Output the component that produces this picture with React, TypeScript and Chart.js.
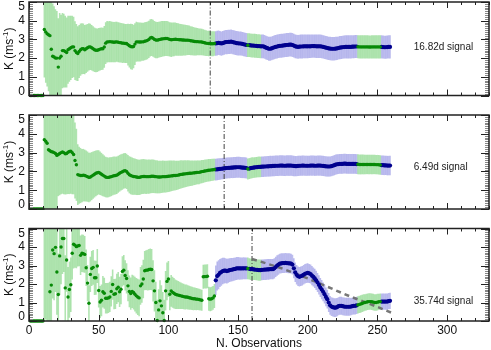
import React, { useEffect, useRef } from 'react';
import { Chart, registerables } from 'chart.js';
Chart.register(...registerables);

const X_MAX = 330;
const X_TICKS = [0, 50, 100, 150, 200, 250, 300];
const Y_TICKS = [0, 1, 2, 3, 4, 5];
const BLUE_FROM = 134;
const GREEN_BAR_RANGES = [[157, 166], [236, 252]];
const GREEN_POINT_RANGES = [[157, 157], [236, 252]];
const VLINES = [130, 140, 160];
const SIGNAL_LABELS = ['16.82d signal', '6.49d signal', '35.74d signal'];
const LABEL_X = 276;
const LABEL_Y = [2.6, 2.2, 1.05];
const TREND_N = [160, 170, 180, 190, 200, 210, 220, 230, 240, 250, 260];
const TREND_K = [3.35, 3.12, 2.88, 2.6, 2.3, 1.98, 1.66, 1.34, 1.05, 0.76, 0.45];

// values for observations n = 1 .. 259
const K1 = [
  0, 0, 0, 0, 0, 0, 0, 0, 0, 0,
  3.53, 3.4, 3.3, 3.25, 3.2, 2.47, 2.1, 2.06, 2.0, 2.0,
  1.52, 2.0, 2.1, 2.4, 2.4, 2.35, 2.3, 2.45, 2.5, 2.55,
  2.6, 2.6, 2.4, 2.3, 2.24, 2.35, 2.45, 2.5, 2.5, 2.45,
  2.5, 2.55, 2.6, 2.6, 2.55, 2.5, 2.45, 2.42, 2.42, 2.45,
  2.48, 2.5, 2.5, 2.6, 2.8, 2.87, 2.87, 2.88, 2.87, 2.86,
  2.85, 2.86, 2.87, 2.85, 2.83, 2.82, 2.8, 2.8, 2.78, 2.78,
  2.72, 2.66, 2.62, 2.6, 2.62, 2.75, 2.87, 2.87, 2.86, 2.86,
  2.87, 2.87, 2.9, 2.92, 2.95, 3.0, 3.08, 3.1, 3.06, 3.0,
  2.97, 2.96, 2.98, 3.0, 3.02, 3.03, 3.04, 3.05, 3.05, 3.03,
  3.0, 2.98, 2.99, 3.0, 3.01, 3.0, 2.99, 2.98, 2.98, 2.97,
  2.97, 2.96, 2.96, 2.96, 2.95, 2.93, 2.92, 2.9, 2.89, 2.88,
  2.88, 2.87, 2.87, 2.86, 2.84, 2.82, 2.8, 2.79, 2.78, 2.78,
  2.77, 2.77, 2.78, 2.78, 2.8, 2.82, 2.8, 2.78, 2.8, 2.83,
  2.85, 2.86, 2.87, 2.87, 2.88, 2.86, 2.84, 2.82, 2.8, 2.79,
  2.78, 2.78, 2.76, 2.74, 2.72, 2.7, 2.69, 2.69, 2.68, 2.67,
  2.67, 2.66, 2.65, 2.64, 2.64, 2.63, 2.63, 2.63, 2.6, 2.56,
  2.53, 2.5, 2.5, 2.52, 2.55, 2.58, 2.6, 2.62, 2.64, 2.65,
  2.66, 2.67, 2.68, 2.69, 2.7, 2.71, 2.72, 2.72, 2.7, 2.67,
  2.63, 2.61, 2.6, 2.61, 2.62, 2.62, 2.63, 2.63, 2.63, 2.63,
  2.63, 2.63, 2.64, 2.64, 2.64, 2.63, 2.63, 2.63, 2.63, 2.62,
  2.6, 2.58, 2.56, 2.54, 2.52, 2.51, 2.5, 2.5, 2.5, 2.51,
  2.52, 2.54, 2.56, 2.57, 2.58, 2.59, 2.6, 2.6, 2.6, 2.6,
  2.6, 2.61, 2.61, 2.62, 2.62, 2.61, 2.6, 2.6, 2.6, 2.6,
  2.6, 2.6, 2.6, 2.59, 2.59, 2.6, 2.6, 2.6, 2.6, 2.6,
  2.6, 2.6, 2.6, 2.59, 2.58, 2.58, 2.59, 2.6, 2.6,
];
const E1 = [
  0, 0, 0, 0, 0, 0, 0, 0, 0, 0,
  2.55, 2.7, 2.8, 3.0, 3.2, 3.0, 2.8, 2.7, 2.6, 2.5,
  2.6, 2.4, 2.2, 2.0, 1.95, 1.9, 1.85, 1.8, 1.75, 1.7,
  1.65, 1.6, 1.55, 1.5, 1.45, 1.4, 1.38, 1.35, 1.33, 1.3,
  1.28, 1.26, 1.24, 1.22, 1.2, 1.18, 1.17, 1.16, 1.15, 1.14,
  1.13, 1.12, 1.11, 1.1, 1.1, 1.09, 1.08, 1.08, 1.07, 1.07,
  1.06, 1.06, 1.05, 1.05, 1.05, 1.04, 1.04, 1.03, 1.03, 1.03,
  1.1, 1.15, 1.2, 1.2, 1.15, 1.1, 1.05, 1.03, 1.02, 1.02,
  1.0, 1.0, 1.0, 0.99, 0.99, 0.98, 0.98, 0.97, 0.97, 0.96,
  0.96, 0.95, 0.95, 0.94, 0.94, 0.93, 0.93, 0.92, 0.92, 0.91,
  0.9, 0.9, 0.89, 0.88, 0.87, 0.86, 0.85, 0.84, 0.83, 0.82,
  0.81, 0.8, 0.79, 0.78, 0.77, 0.76, 0.75, 0.74, 0.73, 0.72,
  0.71, 0.7, 0.7, 0.69, 0.68, 0.68, 0.67, 0.66, 0.66, 0.65,
  0.65, 0.65, 0.64, 0.64, 0.64, 0.64, 0.63, 0.63, 0.63, 0.63,
  0.63, 0.63, 0.63, 0.63, 0.63, 0.63, 0.63, 0.63, 0.63, 0.63,
  0.62, 0.62, 0.62, 0.62, 0.62, 0.62, 0.62, 0.62, 0.62, 0.62,
  0.62, 0.62, 0.62, 0.62, 0.62, 0.62, 0.62, 0.62, 0.62, 0.62,
  0.62, 0.62, 0.62, 0.62, 0.62, 0.62, 0.62, 0.62, 0.62, 0.62,
  0.62, 0.62, 0.62, 0.62, 0.62, 0.62, 0.62, 0.62, 0.62, 0.62,
  0.62, 0.62, 0.62, 0.62, 0.62, 0.62, 0.62, 0.62, 0.62, 0.62,
  0.61, 0.61, 0.61, 0.61, 0.61, 0.61, 0.61, 0.61, 0.61, 0.61,
  0.61, 0.61, 0.61, 0.61, 0.61, 0.61, 0.61, 0.61, 0.61, 0.61,
  0.6, 0.6, 0.6, 0.6, 0.6, 0.6, 0.6, 0.6, 0.6, 0.6,
  0.6, 0.6, 0.6, 0.6, 0.6, 0.6, 0.6, 0.6, 0.6, 0.6,
  0.6, 0.6, 0.6, 0.6, 0.6, 0.6, 0.6, 0.6, 0.6, 0.6,
  0.6, 0.6, 0.6, 0.6, 0.6, 0.6, 0.6, 0.6, 0.6,
];
const K2 = [
  0, 0, 0, 0, 0, 0, 0, 0, 0, 0,
  3.69, 3.6, 3.5, 3.15, 3.1, 3.05, 3.03, 3.0, 2.95, 2.85,
  2.9, 2.95, 3.0, 3.03, 3.0, 2.94, 2.95, 3.02, 3.06, 3.08,
  3.0, 2.9, 2.58, 2.35, 1.83, 1.8, 1.78, 1.78, 1.8, 1.78,
  1.75, 1.72, 1.68, 1.7, 1.75, 1.8, 1.85, 1.9, 1.93, 1.95,
  1.9, 1.85, 1.8, 1.75, 1.7, 1.68, 1.68, 1.7, 1.72, 1.75,
  1.77, 1.78, 1.8, 1.85, 1.9, 1.95, 1.98, 2.02, 2.04, 2.0,
  1.9, 1.82, 1.78, 1.75, 1.73, 1.72, 1.7, 1.69, 1.68, 1.7,
  1.72, 1.73, 1.73, 1.72, 1.72, 1.72, 1.73, 1.74, 1.74, 1.73,
  1.72, 1.71, 1.7, 1.7, 1.71, 1.72, 1.72, 1.72, 1.73, 1.74,
  1.75, 1.76, 1.77, 1.78, 1.78, 1.79, 1.8, 1.82, 1.84, 1.85,
  1.86, 1.87, 1.88, 1.89, 1.9, 1.9, 1.91, 1.92, 1.93, 1.94,
  1.95, 1.95, 1.97, 1.99, 2.0, 2.02, 2.03, 2.05, 2.06, 2.07,
  2.08, 2.09, 2.1, 2.1, 2.11, 2.12, 2.13, 2.14, 2.15, 2.16,
  2.17, 2.18, 2.19, 2.19, 2.2, 2.2, 2.21, 2.21, 2.22, 2.22,
  2.22, 2.21, 2.2, 2.2, 2.19, 2.18, 2.13, 2.15, 2.17, 2.19,
  2.2, 2.21, 2.22, 2.23, 2.24, 2.24, 2.25, 2.25, 2.26, 2.26,
  2.27, 2.27, 2.28, 2.28, 2.29, 2.29, 2.3, 2.3, 2.3, 2.31,
  2.31, 2.31, 2.3, 2.3, 2.31, 2.31, 2.31, 2.31, 2.3, 2.29,
  2.28, 2.28, 2.29, 2.3, 2.3, 2.31, 2.31, 2.3, 2.3, 2.3,
  2.3, 2.31, 2.31, 2.31, 2.3, 2.3, 2.31, 2.31, 2.31, 2.3,
  2.29, 2.28, 2.27, 2.26, 2.26, 2.26, 2.28, 2.3, 2.33, 2.36,
  2.38, 2.39, 2.4, 2.4, 2.4, 2.41, 2.41, 2.4, 2.4, 2.4,
  2.4, 2.4, 2.4, 2.4, 2.39, 2.38, 2.37, 2.37, 2.37, 2.37,
  2.37, 2.37, 2.37, 2.37, 2.37, 2.37, 2.37, 2.37, 2.36, 2.36,
  2.35, 2.34, 2.33, 2.33, 2.32, 2.32, 2.31, 2.31, 2.31,
];
const E2 = [
  0, 0, 0, 0, 0, 0, 0, 0, 0, 0,
  3.7, 3.8, 3.8, 3.6, 3.5, 3.4, 3.3, 3.2, 3.1, 3.0,
  2.2, 2.2, 2.2, 2.2, 2.2, 2.15, 2.15, 2.2, 2.25, 2.25,
  2.2, 2.1, 2.0, 1.9, 1.6, 1.5, 1.45, 1.4, 1.38, 1.36,
  1.34, 1.32, 1.3, 1.28, 1.26, 1.24, 1.22, 1.2, 1.18, 1.16,
  1.14, 1.12, 1.1, 1.08, 1.06, 1.05, 1.04, 1.03, 1.02, 1.01,
  1.0, 0.99, 0.98, 0.97, 0.96, 0.95, 0.94, 0.93, 0.92, 0.92,
  0.95, 0.97, 0.98, 0.97, 0.96, 0.95, 0.94, 0.93, 0.92, 0.92,
  0.91, 0.91, 0.9, 0.9, 0.89, 0.89, 0.88, 0.88, 0.87, 0.87,
  0.86, 0.86, 0.85, 0.85, 0.84, 0.84, 0.83, 0.83, 0.82, 0.82,
  0.81, 0.8, 0.79, 0.78, 0.77, 0.76, 0.75, 0.74, 0.73, 0.72,
  0.71, 0.7, 0.69, 0.68, 0.67, 0.66, 0.65, 0.64, 0.63, 0.62,
  0.62, 0.61, 0.6, 0.6, 0.59, 0.59, 0.58, 0.58, 0.58, 0.57,
  0.57, 0.57, 0.56, 0.56, 0.56, 0.56, 0.55, 0.55, 0.55, 0.55,
  0.54, 0.54, 0.54, 0.54, 0.54, 0.54, 0.54, 0.54, 0.54, 0.54,
  0.54, 0.54, 0.54, 0.54, 0.54, 0.54, 0.54, 0.54, 0.54, 0.54,
  0.53, 0.53, 0.53, 0.53, 0.53, 0.53, 0.53, 0.53, 0.53, 0.53,
  0.53, 0.53, 0.53, 0.53, 0.53, 0.53, 0.53, 0.53, 0.53, 0.53,
  0.53, 0.53, 0.53, 0.53, 0.53, 0.53, 0.53, 0.53, 0.53, 0.53,
  0.52, 0.52, 0.52, 0.52, 0.52, 0.52, 0.52, 0.52, 0.52, 0.52,
  0.52, 0.52, 0.52, 0.52, 0.52, 0.52, 0.52, 0.52, 0.52, 0.52,
  0.52, 0.52, 0.52, 0.52, 0.52, 0.52, 0.52, 0.52, 0.52, 0.52,
  0.51, 0.51, 0.51, 0.51, 0.51, 0.51, 0.51, 0.51, 0.51, 0.51,
  0.51, 0.51, 0.51, 0.51, 0.51, 0.51, 0.51, 0.51, 0.51, 0.51,
  0.5, 0.5, 0.5, 0.5, 0.5, 0.5, 0.5, 0.5, 0.5, 0.5,
  0.5, 0.5, 0.5, 0.5, 0.5, 0.5, 0.5, 0.5, 0.5,
];
const K3 = [
  0, 0, 0, 0, 0, 0, 0, 0, 0, 0,
  5.6, 6.1, 5.5, 5.3, 1.58, 1.94, 3.84, 3.64, 3.98, 2.65,
  1.43, 3.52, 4.0, 4.46, 4.46, 1.79, 3.3, 1.3, 1.7, 1.96,
  3.66, 4.15, 4.1, 4.02, 4.06, 4.08, 3.55, 3.66, 3.64, 3.6,
  2.88, 2.05, 0.96, 2.52, 2.84, 2.9, 2.34, 2.34, 2.97, 1.65,
  1.03, 1.12, 1.58, 1.5, 1.23, 1.23, 1.25, 1.3, 1.6, 1.97,
  1.45, 1.47, 1.74, 1.83, 1.58, 1.72, 2.68, 2.75, 2.46, 2.3,
  1.9, 1.6, 1.48, 1.6, 1.54, 1.45, 1.36, 1.3, 1.25, 1.9,
  2.0, 2.27, 2.72, 2.75, 2.75, 2.78, 2.8, 2.78, 2.17, 1.63,
  1.0, 0.03, 0.6, 1.09, 0.82, 0.45, 0.03, 1.63, 2.14, 2.27,
  1.45, 1.63, 1.55, 1.5, 1.45, 1.42, 1.4, 1.38, 1.36, 1.34,
  1.32, 1.3, 1.3, 1.28, 1.26, 1.24, 1.22, 1.2, 1.2, 1.18,
  1.18, 1.16, 1.14, 1.12, 2.39, 2.4, 2.4, 2.42, 1.2, 1.18,
  1.2, 1.25, 1.35, 2.2, 2.43, 2.5, 2.6, 2.65, 2.7, 2.72,
  2.72, 2.7, 2.72, 2.75, 2.77, 2.78, 2.8, 2.82, 2.84, 2.85,
  2.84, 2.84, 2.84, 2.85, 2.85, 2.84, 2.84, 2.82, 2.8, 2.8,
  2.79, 2.78, 2.77, 2.76, 2.75, 2.75, 2.76, 2.77, 2.78, 2.78,
  2.79, 2.79, 2.8, 2.8, 2.8, 2.85, 2.92, 3.0, 3.05, 3.1,
  3.12, 3.13, 3.13, 3.14, 3.13, 3.12, 3.12, 3.1, 3.05, 2.85,
  2.63, 2.5, 2.42, 2.39, 2.42, 2.45, 2.5, 2.55, 2.58, 2.6,
  2.57, 2.54, 2.45, 2.38, 2.3, 2.2, 2.08, 1.95, 1.81, 1.7,
  1.58, 1.45, 1.3, 1.18, 1.0, 0.85, 0.78, 0.75, 0.72, 0.72,
  0.75, 0.8, 0.82, 0.82, 0.8, 0.78, 0.77, 0.77, 0.77, 0.77,
  0.78, 0.8, 0.82, 0.82, 0.84, 0.87, 0.9, 0.92, 0.95, 0.98,
  1.0, 1.02, 1.04, 1.05, 1.05, 1.04, 1.02, 1.0, 1.0, 1.02,
  1.04, 1.05, 1.05, 1.05, 1.05, 1.05, 1.05, 1.07, 1.09,
];
const E3 = [
  0, 0, 0, 0, 0, 0, 0, 0, 0, 0,
  6, 6, 6, 6, 3.4, 3.3, 2.6, 2.5, 2.4, 2.3,
  2.2, 2.1, 2.0, 1.9, 1.8, 1.75, 1.7, 1.6, 1.5, 1.45,
  1.4, 1.3, 1.2, 1.15, 1.1, 1.1, 1.05, 1.0, 1.0, 0.98,
  0.97, 0.96, 0.95, 0.94, 0.93, 0.92, 0.91, 0.9, 0.9, 0.9,
  0.85, 0.84, 0.83, 0.82, 0.81, 0.8, 0.8, 0.8, 0.8, 0.8,
  0.8, 0.8, 0.8, 0.8, 0.8, 0.8, 0.8, 0.8, 0.8, 0.8,
  0.82, 0.84, 0.86, 0.88, 0.9, 0.92, 0.94, 0.96, 0.98, 1.0,
  1.0, 1.02, 1.04, 1.06, 1.08, 1.1, 1.1, 1.1, 1.1, 1.1,
  1.1, 1.1, 1.1, 1.1, 1.1, 1.1, 1.1, 1.05, 1.0, 0.95,
  0.85, 0.84, 0.82, 0.8, 0.78, 0.76, 0.74, 0.72, 0.7, 0.68,
  0.67, 0.66, 0.65, 0.64, 0.63, 0.62, 0.61, 0.6, 0.59, 0.58,
  0.57, 0.56, 0.56, 0.55, 0.63, 0.63, 0.63, 0.63, 0.63, 0.63,
  0.63, 0.63, 0.63, 0.78, 0.77, 0.76, 0.74, 0.72, 0.7, 0.68,
  0.66, 0.65, 0.64, 0.63, 0.62, 0.61, 0.6, 0.6, 0.6, 0.59,
  0.59, 0.58, 0.58, 0.58, 0.57, 0.57, 0.57, 0.56, 0.56, 0.56,
  0.56, 0.55, 0.55, 0.55, 0.55, 0.55, 0.54, 0.54, 0.54, 0.54,
  0.54, 0.54, 0.53, 0.53, 0.53, 0.53, 0.53, 0.53, 0.53, 0.52,
  0.52, 0.52, 0.52, 0.52, 0.52, 0.52, 0.52, 0.52, 0.52, 0.52,
  0.51, 0.51, 0.51, 0.51, 0.51, 0.51, 0.51, 0.51, 0.51, 0.51,
  0.5, 0.5, 0.5, 0.5, 0.5, 0.5, 0.5, 0.5, 0.5, 0.5,
  0.49, 0.49, 0.49, 0.49, 0.49, 0.49, 0.49, 0.49, 0.49, 0.49,
  0.47, 0.47, 0.47, 0.47, 0.47, 0.47, 0.47, 0.47, 0.47, 0.47,
  0.45, 0.45, 0.45, 0.45, 0.45, 0.45, 0.45, 0.45, 0.45, 0.45,
  0.43, 0.43, 0.43, 0.43, 0.43, 0.43, 0.43, 0.43, 0.43, 0.43,
  0.42, 0.42, 0.42, 0.42, 0.42, 0.42, 0.42, 0.42, 0.42,
];

const PANEL_K = [K1, K2, K3];
const PANEL_E = [E1, E2, E3];

const FONT = '"Liberation Sans", Arial, Helvetica, sans-serif';
const GREEN_BAR = 'rgba(80,195,80,0.45)';
const BLUE_BAR = 'rgba(95,95,215,0.42)';
const GREEN_PT = '#078a07';
const BLUE_PT = '#00008e';

function inRanges(n: number, ranges: number[][]) {
  return ranges.some(([a, b]) => n >= a && n <= b);
}

const decorPlugin = {
  id: 'decor',
  afterDatasetsDraw(chart: any, _args: any, opts: any) {
    const { ctx, chartArea: a, scales } = chart;
    const xs = scales.x;
    const ys = scales.y;
    ctx.save();
    const seg = (x1: number, y1: number, x2: number, y2: number) => {
      ctx.beginPath();
      ctx.moveTo(x1, y1);
      ctx.lineTo(x2, y2);
      ctx.stroke();
    };
    ctx.lineWidth = 1;
    for (let i = 0; i <= 50; i++) {
      const py = Math.round(ys.getPixelForValue(i / 10)) + 0.5;
      const major = i % 10 === 0;
      ctx.strokeStyle = major ? '#222' : '#888';
      const len = major ? 8 : 4;
      seg(a.left, py, a.left + len, py);
      seg(a.right - len, py, a.right, py);
    }
    ctx.strokeStyle = '#222';
    for (let v = 0; v <= X_MAX; v += 10) {
      const px = Math.round(xs.getPixelForValue(v)) + 0.5;
      const len = v % 50 === 0 ? 6 : 3;
      seg(px, a.bottom, px, a.bottom - len);
      seg(px, a.top, px, a.top + len);
    }
    ctx.lineWidth = 1.5;
    ctx.strokeRect(a.left, a.top, a.right - a.left, a.bottom - a.top);

    ctx.fillStyle = '#111';
    ctx.font = `12px ${FONT}`;
    ctx.textAlign = 'right';
    ctx.textBaseline = 'middle';
    Y_TICKS.forEach((v) => {
      let py = ys.getPixelForValue(v);
      py = Math.min(Math.max(py, a.top + 5), a.bottom - 4);
      ctx.fillText(String(v), a.left - 4, py);
    });

    // y title with superscript
    ctx.save();
    ctx.translate(10, (a.top + a.bottom) / 2);
    ctx.rotate(-Math.PI / 2);
    ctx.textAlign = 'left';
    const p1 = 'K (ms';
    const p2 = '-1';
    const p3 = ')';
    ctx.font = `12px ${FONT}`;
    const w1 = ctx.measureText(p1).width;
    const w3 = ctx.measureText(p3).width;
    ctx.font = `8px ${FONT}`;
    const w2 = ctx.measureText(p2).width;
    let x0 = -(w1 + w2 + w3) / 2;
    ctx.font = `12px ${FONT}`;
    ctx.fillText(p1, x0, 0);
    x0 += w1;
    ctx.font = `8px ${FONT}`;
    ctx.fillText(p2, x0, -4);
    x0 += w2;
    ctx.font = `12px ${FONT}`;
    ctx.fillText(p3, x0, 0);
    ctx.restore();

    if (opts.showX) {
      ctx.textAlign = 'center';
      ctx.textBaseline = 'middle';
      ctx.font = `12px ${FONT}`;
      X_TICKS.forEach((v) => {
        ctx.fillText(String(v), xs.getPixelForValue(v), a.bottom + 10);
      });
      ctx.fillText('N. Observations', (a.left + a.right) / 2, a.bottom + 23);
    }

    ctx.font = `10px ${FONT}`;
    ctx.textAlign = 'left';
    ctx.textBaseline = 'middle';
    ctx.fillStyle = '#222';
    ctx.fillText(opts.label, xs.getPixelForValue(LABEL_X), ys.getPixelForValue(opts.ly));
    ctx.restore();
  },
};

function buildConfig(idx: number, pad: any) {
  const k = PANEL_K[idx];
  const e = PANEL_E[idx];
  const gBars: any[] = [];
  const bBars: any[] = [];
  const gPts: any[] = [];
  const bPts: any[] = [];
  k.forEach((v, i) => {
    const n = i + 1;
    const err = e[i];
    const blueBar = n >= BLUE_FROM && !inRanges(n, GREEN_BAR_RANGES);
    const bluePt = n >= BLUE_FROM && !inRanges(n, GREEN_POINT_RANGES);
    if (err > 0) (blueBar ? bBars : gBars).push({ x: n, y: [v - err, v + err] });
    (bluePt ? bPts : gPts).push({ x: n, y: v });
  });
  const ptClip = { left: 3, right: 3, top: 0, bottom: 3 };
  const datasets: any[] = [
    { type: 'bar', data: gBars, backgroundColor: GREEN_BAR, barThickness: 0.9, grouped: false, borderWidth: 0, clip: 0, order: 5 },
    { type: 'bar', data: bBars, backgroundColor: BLUE_BAR, barThickness: 0.9, grouped: false, borderWidth: 0, clip: 0, order: 5 },
    {
      type: 'line', data: [{ x: VLINES[idx], y: 0 }, { x: VLINES[idx], y: 5 }],
      borderColor: '#444', borderWidth: 1, borderDash: [5, 2, 1, 2], pointRadius: 0, showLine: true, clip: 0, order: 4,
    },
  ];
  if (idx === 2) {
    datasets.push({
      type: 'line', data: TREND_N.map((n, i) => ({ x: n, y: TREND_K[i] })),
      borderColor: 'rgba(105,105,105,0.9)', borderWidth: 2.5, borderDash: [5, 4], pointRadius: 0, showLine: true, clip: 0, order: 2,
    });
  }
  datasets.push(
    { type: 'line', data: gPts, showLine: false, pointRadius: 1.7, pointBorderWidth: 0, pointBackgroundColor: GREEN_PT, borderColor: GREEN_PT, clip: ptClip, order: 1 },
    { type: 'line', data: bPts, showLine: false, pointRadius: 2.1, pointBorderWidth: 0, pointBackgroundColor: BLUE_PT, borderColor: BLUE_PT, clip: ptClip, order: 1 },
  );
  return {
    type: 'scatter',
    data: { datasets },
    options: {
      animation: false,
      responsive: false,
      devicePixelRatio: 1,
      events: [],
      layout: { padding: pad, autoPadding: false },
      plugins: {
        legend: { display: false },
        tooltip: { enabled: false },
        decor: { label: SIGNAL_LABELS[idx], ly: LABEL_Y[idx], showX: idx === 2 },
      },
      scales: {
        x: { type: 'linear', min: 0, max: X_MAX, display: false, offset: false },
        y: { type: 'linear', min: 0, max: 5, display: false },
      },
    },
    plugins: [decorPlugin],
  };
}

function Panel({ idx, top, height, pad }: { idx: number; top: number; height: number; pad: any }) {
  const ref = useRef<HTMLCanvasElement>(null);
  useEffect(() => {
    const chart = new Chart(ref.current as HTMLCanvasElement, buildConfig(idx, pad) as any);
    return () => chart.destroy();
  }, [idx]);
  return (
    <canvas
      ref={ref}
      width={491}
      height={height}
      style={{ position: 'absolute', left: 0, top, width: 491, height }}
    />
  );
}

export default function App() {
  return (
    <div style={{ position: 'absolute', left: 0, top: 0, width: 491, height: 350, background: '#fff', overflow: 'hidden' }}>
      <Panel idx={0} top={0} height={100} pad={{ left: 29, right: 2, top: 2, bottom: 4.5 }} />
      <Panel idx={1} top={110} height={100} pad={{ left: 29, right: 2, top: 5, bottom: 1 }} />
      <Panel idx={2} top={220} height={130} pad={{ left: 29, right: 2, top: 8.5, bottom: 29 }} />
    </div>
  );
}
